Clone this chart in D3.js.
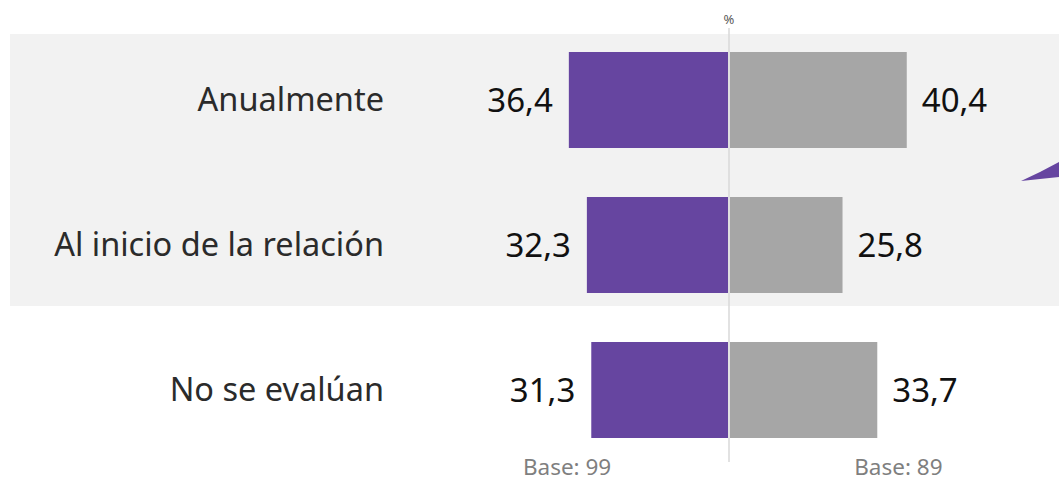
<!DOCTYPE html>
<html><head><meta charset="utf-8">
<script src="https://cdn.jsdelivr.net/npm/d3@7"></script>
<style>
html,body{margin:0;padding:0;background:#fff;overflow:hidden;}
svg{display:block;}
</style></head>
<body>
<script>
const categories = ["Anualmente", "Al inicio de la relación", "No se evalúan"];
const leftValues = [36.4, 32.3, 31.3];
const rightValues = [40.4, 25.8, 33.7];
const baseLabels = ["Base: 99", "Base: 89"];
const unitLabel = "%";

const W = 1059, H = 482;
const svg = d3.select("body").append("svg").attr("width", W).attr("height", H);

const x = d3.scaleLinear().domain([-50, 50]).range([509, 949]);
const y = d3.scaleBand().domain(categories).range([3, 487]).paddingInner(0.338).paddingOuter(0.338);
const bw = y.bandwidth();
const fmt = v => d3.format(".1f")(v).replace(".", ",");
const font = "'Noto Sans', 'Open Sans', sans-serif";

// highlight band behind first two rows
svg.append("rect")
  .attr("x", 10).attr("width", W - 10)
  .attr("y", y(categories[0]) - 18)
  .attr("height", y(categories[1]) + bw + 13 - (y(categories[0]) - 18))
  .attr("fill", "#f2f2f2");

// decorative purple wedge at the right edge
svg.append("path")
  .attr("d", "M1021,181 L1040,172 L1059,162 L1059,177 Z")
  .attr("fill", "#6645a0");

// left bars
svg.selectAll(".lb").data(categories).enter().append("rect")
  .attr("x", (d, i) => x(-leftValues[i]))
  .attr("width", (d, i) => x(0) - x(-leftValues[i]) - 1)
  .attr("y", d => y(d)).attr("height", bw)
  .attr("fill", "#6645a0");

// right bars
svg.selectAll(".rb").data(categories).enter().append("rect")
  .attr("x", x(0) + 1)
  .attr("width", (d, i) => x(rightValues[i]) - x(0) - 1)
  .attr("y", d => y(d)).attr("height", bw)
  .attr("fill", "#a6a6a6");

// center line
svg.append("line")
  .attr("x1", x(0)).attr("x2", x(0))
  .attr("y1", 28).attr("y2", 462)
  .attr("stroke", "#d9d9d9").attr("stroke-width", 1.5);

// unit label
svg.append("text").attr("x", x(0)).attr("y", 24)
  .attr("text-anchor", "middle").attr("font-family", font)
  .attr("font-size", 13).attr("fill", "#595959").text(unitLabel);

// category labels
svg.selectAll(".cl").data(categories).enter().append("text")
  .attr("x", 384).attr("y", d => y(d) + bw / 2)
  .attr("dy", "0.35em").attr("text-anchor", "end")
  .attr("font-family", font).attr("font-size", 32.5)
  .attr("fill", "#2b2b2b").text(d => d);

// left values
svg.selectAll(".lv").data(categories).enter().append("text")
  .attr("x", (d, i) => x(-leftValues[i]) - 16)
  .attr("y", d => y(d) + bw / 2).attr("dy", "0.36em")
  .attr("text-anchor", "end").attr("font-family", font)
  .attr("font-size", 33).attr("fill", "#111111")
  .text((d, i) => fmt(leftValues[i]));

// right values
svg.selectAll(".rv").data(categories).enter().append("text")
  .attr("x", (d, i) => x(rightValues[i]) + 15)
  .attr("y", d => y(d) + bw / 2).attr("dy", "0.36em")
  .attr("text-anchor", "start").attr("font-family", font)
  .attr("font-size", 33).attr("fill", "#111111")
  .text((d, i) => fmt(rightValues[i]));

// base labels
svg.append("text").attr("x", x(-36.8)).attr("y", 475)
  .attr("text-anchor", "middle").attr("font-family", font)
  .attr("font-size", 22.5).attr("fill", "#7f7f7f").text(baseLabels[0]);
svg.append("text").attr("x", x(38.5)).attr("y", 475)
  .attr("text-anchor", "middle").attr("font-family", font)
  .attr("font-size", 22.5).attr("fill", "#7f7f7f").text(baseLabels[1]);
</script>
</body></html>
